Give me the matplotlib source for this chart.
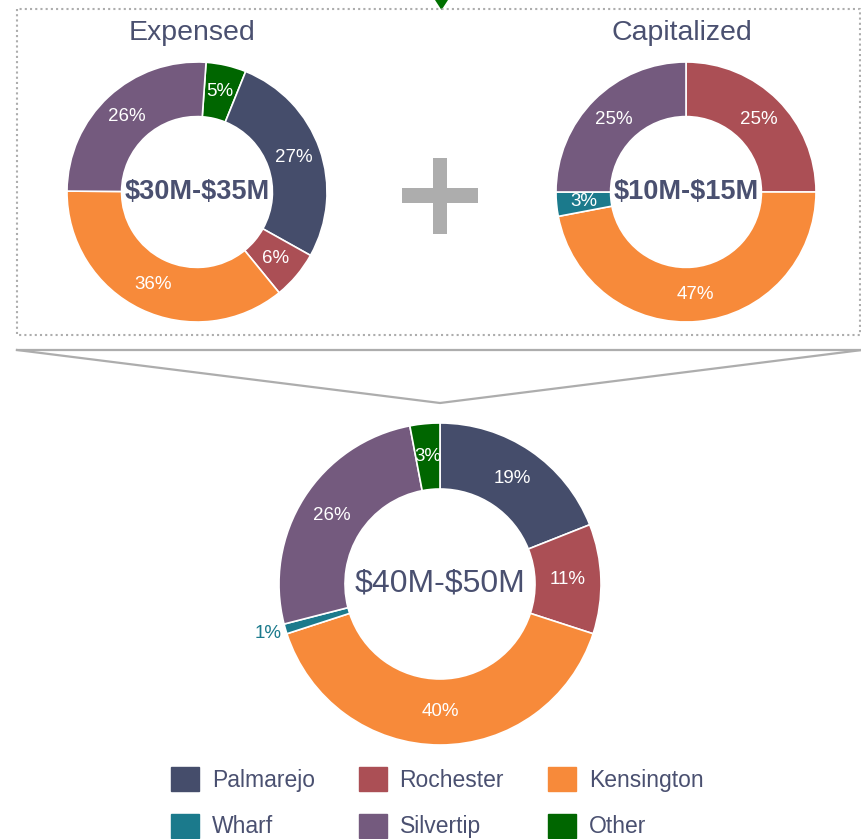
import matplotlib
matplotlib.use("Agg")
import matplotlib.pyplot as plt
from matplotlib.patches import Rectangle, Polygon, Patch

plt.rcParams['font.family'] = ['Liberation Sans', 'DejaVu Sans']

W, H = 862, 839
TXT = "#4a5070"
GREY = "#adadad"

colors = {"Palmarejo": "#454d6b", "Rochester": "#ab4f55", "Kensington": "#f78a3a",
          "Wharf": "#1b7a8c", "Silvertip": "#745a7e", "Other": "#006600"}

# wedges listed clockwise from 12 o'clock
expensed_sites = ["Other", "Palmarejo", "Rochester", "Kensington", "Silvertip"]
expensed_pct = [5, 27, 6, 36, 26]
capitalized_sites = ["Rochester", "Kensington", "Wharf", "Silvertip"]
capitalized_pct = [25, 47, 3, 25]
total_sites = ["Palmarejo", "Rochester", "Kensington", "Wharf", "Silvertip", "Other"]
total_pct = [19, 11, 40, 1, 26, 3]

titles = ["Expensed", "Capitalized"]
ranges = ["$30M-$35M", "$10M-$15M", "$40M-$50M"]
legend_order = ["Palmarejo", "Wharf", "Rochester", "Silvertip", "Kensington", "Other"]

fig = plt.figure(figsize=(W / 100, H / 100), dpi=100)

# overlay in pixel coords for the frame, connector and plus sign
ax0 = fig.add_axes([0, 0, 1, 1])
ax0.set_xlim(0, W)
ax0.set_ylim(H, 0)
ax0.axis("off")
ax0.plot([17, 17, 860, 860, 17], [9, 335, 335, 9, 9], color=GREY, lw=1.5, ls=(0, (1, 1.5)))
ax0.add_patch(Polygon([[435, 0], [448, 0], [441.5, 10]], color="#007000", lw=0))
ax0.plot([17, 862], [350, 350], color=GREY, lw=1.6)
ax0.plot([17, 440, 862], [350, 403, 350], color=GREY, lw=1.6)
ax0.add_patch(Rectangle((402, 188), 76, 15, color=GREY, lw=0))
ax0.add_patch(Rectangle((433, 158), 14, 76, color=GREY, lw=0))
ax0.text(192, 33, titles[0], ha="center", va="center", fontsize=20.5, color=TXT)
ax0.text(682, 33, titles[1], ha="center", va="center", fontsize=20.5, color=TXT)


def donut(cx, cy, r, names, pct, hole, label, size, weight, start=90):
    ax = fig.add_axes([(cx - r) / W, (H - cy - r) / H, 2 * r / W, 2 * r / H])
    _, _, autotexts = ax.pie(pct, colors=[colors[s] for s in names], startangle=start,
                             counterclock=False, autopct=lambda p: f"{p:.0f}%",
                             pctdistance=(1 + hole) / 2,
                             wedgeprops=dict(width=1 - hole, edgecolor="white", linewidth=1.2),
                             textprops=dict(color="white", fontsize=13.5))
    ax.set_xlim(-1, 1)
    ax.set_ylim(-1, 1)
    ax.text(0, 0, label.replace("$", r"\$"), ha="center", va="center",
            fontsize=size, weight=weight, color=TXT)
    return autotexts


donut(197, 192, 130, expensed_sites, expensed_pct, 0.58, ranges[0], 19.5, "bold", start=86)
donut(686, 192, 130, capitalized_sites, capitalized_pct, 0.58, ranges[1], 19.5, "bold")
at = donut(440, 584, 161, total_sites, total_pct, 0.59, ranges[2], 23, "normal")

# the tiny Wharf slice gets its label outside the ring
t = at[total_sites.index("Wharf")]
x, y = t.get_position()
k = 1.11 / 0.795
t.set_position((x * k, y * k))
t.set_color(colors["Wharf"])

fig.legend(handles=[Patch(color=colors[s]) for s in legend_order], labels=legend_order,
           ncol=3, loc="upper left", bbox_to_anchor=(171 / W, 1 - 767 / H),
           frameon=False, fontsize=16.5, labelcolor=TXT, handlelength=1.22,
           handleheight=1.22, handletextpad=0.57, columnspacing=1.9,
           labelspacing=0.97, borderpad=0, borderaxespad=0)

fig.savefig("out.png", dpi=100)
